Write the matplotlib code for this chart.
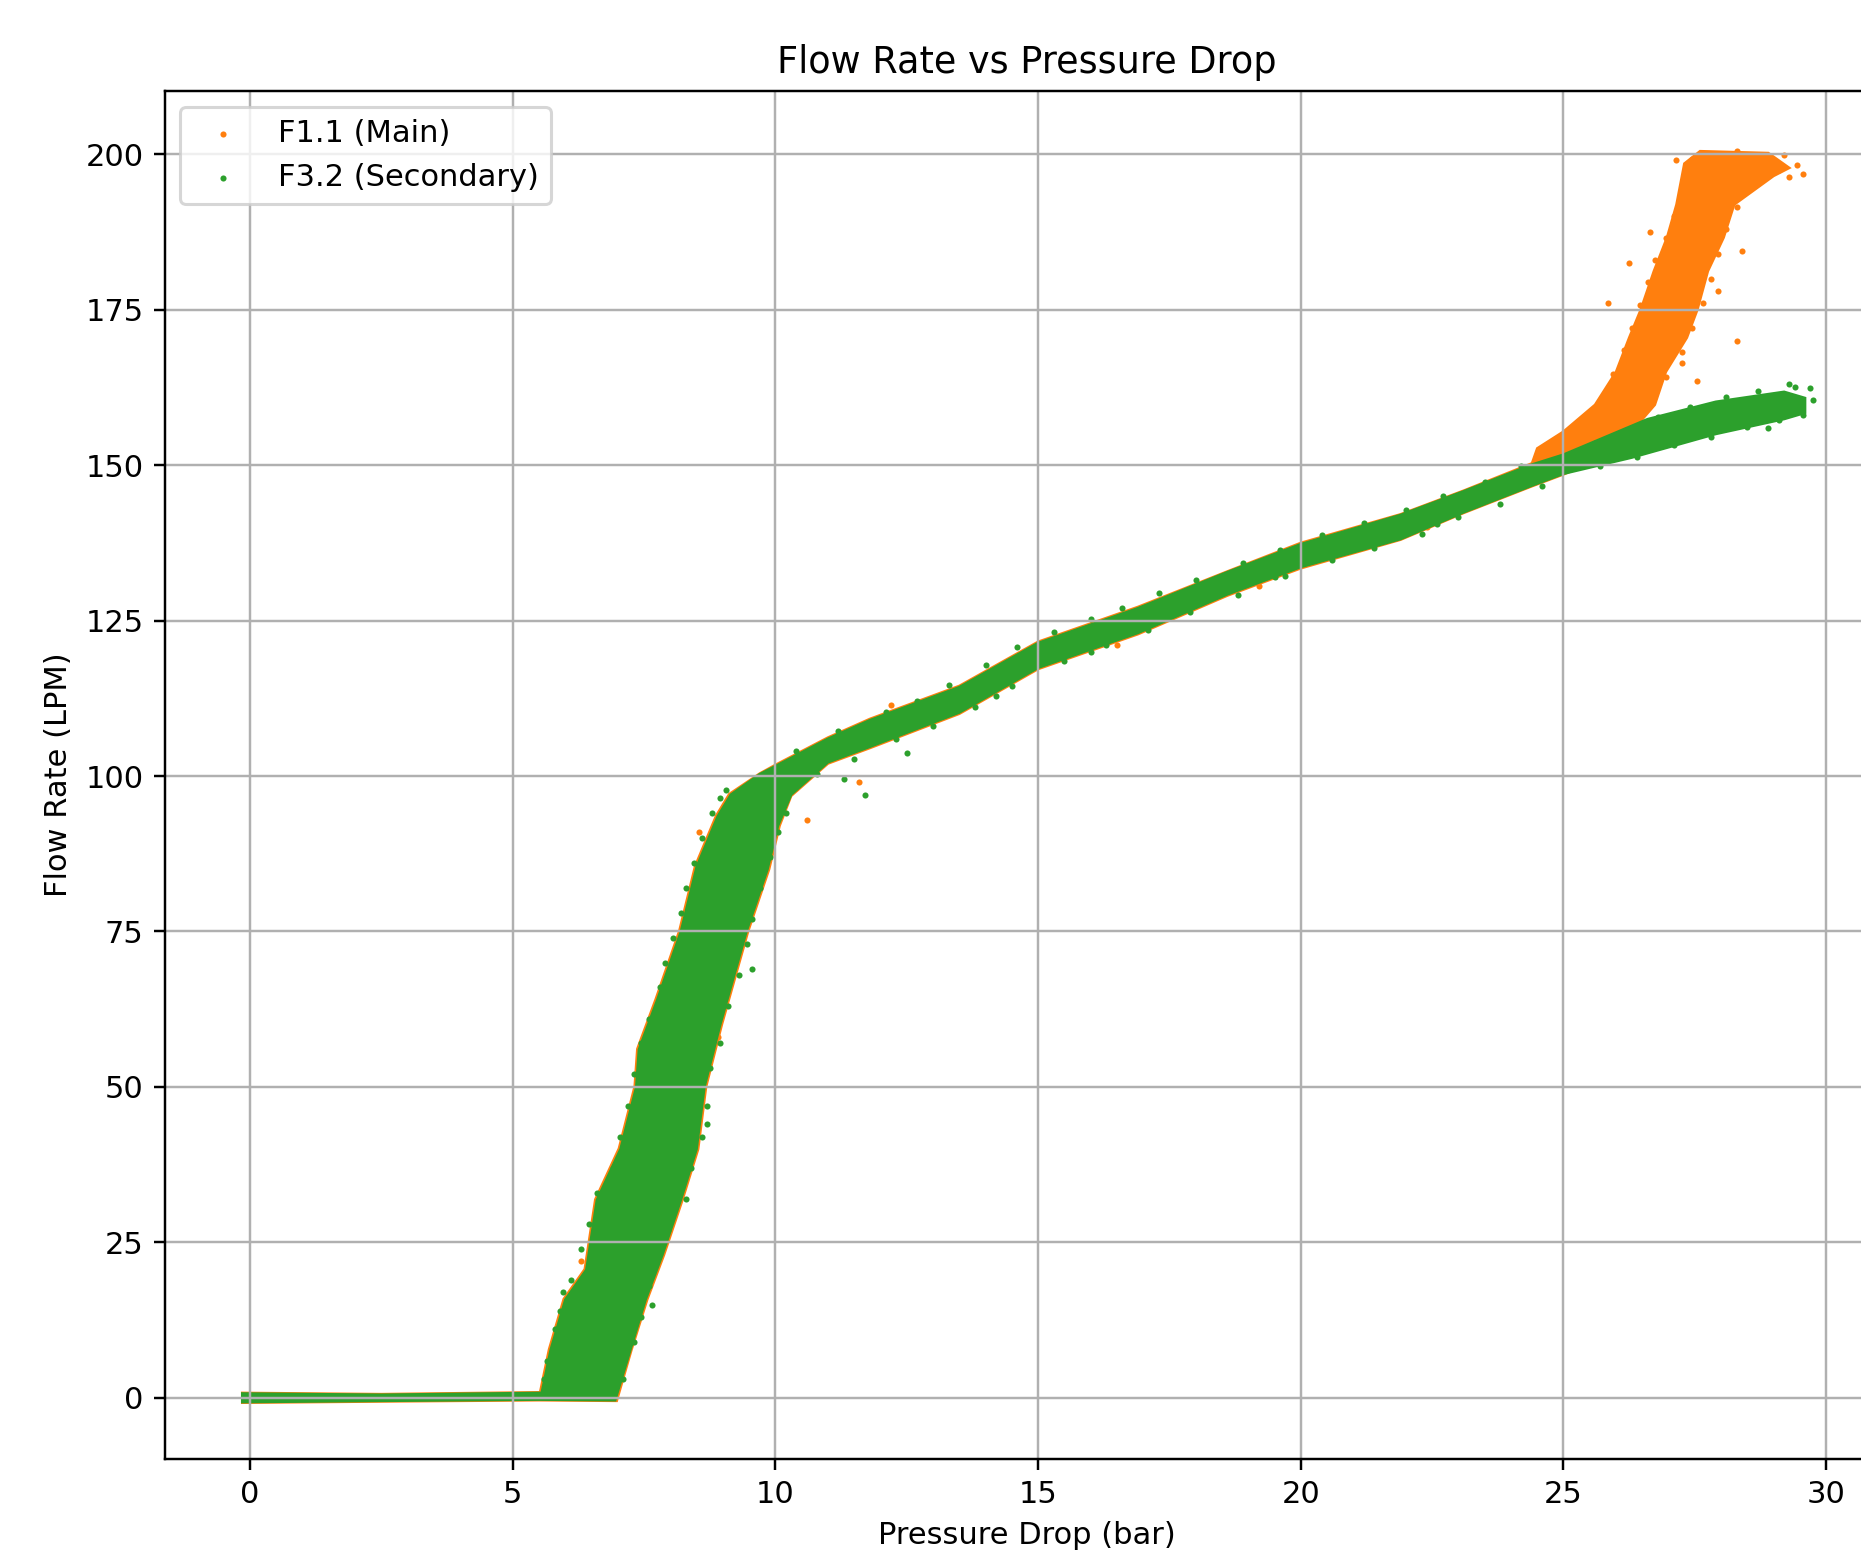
import matplotlib
matplotlib.use("Agg")
import matplotlib.pyplot as plt

# band outlines (x = bar, y = LPM), walked round the dense core
main_band_x = [-0.15, 2.5, 5.5, 6.98, 7.26, 7.56, 7.88, 8.23, 8.53, 8.68, 8.98, 9.18, 9.48,
               9.88, 10.08, 10.3, 11.0, 11.8, 13.5, 15.0, 16.9, 18.6, 20.0, 21.9, 23.1,
               24.4, 25.0, 26.2, 26.3, 26.74, 26.95, 27.35, 27.55, 27.75, 28.05, 28.25,
               29.0, 29.3, 28.9, 27.6, 27.3, 27.15, 26.97, 26.72, 26.47, 26.25, 26.0, 25.6,
               25.0, 24.5, 24.4, 23.1, 21.9, 20.0, 18.6, 16.9, 15.0, 13.5, 11.8, 11.0,
               10.0, 9.7, 9.12, 8.87, 8.47, 8.17, 7.72, 7.37, 7.32, 7.02, 6.57, 6.37, 5.97,
               5.69, 5.52, 2.5, -0.15]
main_band_y = [-0.8, -0.6, -0.4, -0.5, 7.7, 15.8, 23.0, 31.8, 40.0, 50.0, 60.0, 66.0, 75.0,
               85.0, 92.0, 96.8, 102.0, 104.5, 110.0, 117.2, 122.8, 129.0, 133.4, 138.0,
               142.3, 146.6, 148.5, 152.7, 155.4, 159.7, 165.0, 170.5, 175.0, 181.2, 186.6,
               191.9, 196.5, 197.8, 200.2, 200.5, 198.5, 191.9, 186.6, 181.2, 175.0, 170.5,
               165.0, 159.7, 155.4, 152.7, 150.3, 145.9, 142.1, 137.5, 132.9, 127.2, 121.6,
               114.5, 109.2, 106.2, 101.8, 100.4, 97.1, 93.6, 85.5, 75.1, 64.1, 56.1, 50.1,
               40.1, 31.9, 20.7, 15.9, 7.8, 0.9, 0.6, 0.8]

sec_band_x = [-0.15, 2.5, 5.5, 6.95, 7.24, 7.53, 7.85, 8.2, 8.5, 8.65, 8.95, 9.15, 9.45,
              9.85, 10.05, 10.3, 11.0, 11.8, 13.5, 15.0, 16.9, 18.6, 20.0, 21.9, 23.1,
              24.4, 25.0, 26.3, 27.9, 29.2, 29.6,
              29.6, 29.2, 27.9, 26.6, 25.0, 24.4, 23.1, 21.9, 20.0, 18.6, 16.9, 15.0,
              13.5, 11.8, 11.0, 10.0, 9.7, 9.15, 8.9, 8.5, 8.2, 7.75, 7.4, 7.35, 7.05,
              6.6, 6.4, 6.0, 5.72, 5.55, 2.5, -0.15]
sec_band_y = [-0.7, -0.5, -0.3, -0.4, 7.7, 15.8, 23.0, 31.8, 40.0, 50.0, 60.0, 66.0, 75.0,
              85.0, 92.0, 97.0, 102.2, 104.7, 110.2, 117.4, 123.0, 129.2, 133.6, 138.1,
              142.4, 146.7, 148.6, 151.2, 155.0, 157.4, 158.4,
              160.8, 161.8, 160.2, 157.4, 151.7, 150.1, 145.8, 142.0, 137.3, 132.8, 127.0,
              121.4, 114.3, 109.0, 106.0, 101.6, 100.3, 97.0, 93.5, 85.4, 75.0, 64.0,
              56.0, 50.0, 40.0, 31.8, 20.6, 15.8, 7.7, 0.8, 0.5, 0.7]

# loose readings on the fuzzy rims and outside the dense core
main_pts_x = [25.3, 25.6, 25.85, 25.95, 26.15, 26.3, 26.45, 26.6, 26.75, 26.95, 27.1, 27.25,
              27.35, 27.45, 26.4, 26.7, 26.95, 27.25, 27.45, 27.65, 27.8, 27.95, 28.1, 28.3,
              28.7, 29.1, 29.45, 29.2, 28.3, 25.85, 26.25, 26.65, 27.55, 28.3, 29.3, 28.4,
              27.25, 27.95, 24.8, 25.1, 6.3, 8.0, 8.9, 9.6, 10.4, 7.6, 6.05, 9.4, 10.6, 8.3,
              11.6, 16.5, 13.8, 12.2, 19.2, 22.4, 8.55, 9.9, 7.0, 27.15, 29.55]
main_pts_y = [155.5, 158.3, 161.5, 164.6, 168.5, 172.0, 175.8, 179.5, 183.0, 186.5, 190.0,
              193.2, 196.5, 199.3, 157.8, 160.8, 164.2, 168.2, 172.0, 176.0, 180.0, 184.0,
              188.0, 191.5, 195.3, 197.4, 198.2, 199.8, 200.6, 176.0, 182.5, 187.5, 163.5,
              170.0, 196.3, 184.5, 166.5, 178.0, 151.8, 154.3, 22.0, 33.0, 58.0, 84.0,
              98.0, 45.0, 9.0, 96.5, 93.0, 73.0, 99.0, 121.0, 112.0, 111.5, 130.5, 140.0,
              91.0, 88.0, 30.0, 199.0, 196.8]

sec_pts_x = [5.6, 5.65, 5.8, 5.9, 6.1, 6.3, 6.45, 6.6, 6.9, 7.05, 7.2, 7.3, 7.45, 7.6, 7.8,
             7.9, 8.05, 8.2, 8.3, 8.45, 8.6, 8.8, 8.95,
             7.1, 7.3, 7.45, 7.6, 7.7, 7.95, 8.3, 8.4, 8.6, 8.7, 8.75, 8.95, 9.1, 9.3,
             9.45, 9.55, 9.7, 9.9, 10.05, 10.2,
             10.4, 11.2, 12.1, 12.7, 13.3, 14.0, 14.6, 15.3, 16.0, 16.6, 17.3, 18.0, 18.9,
             19.6, 20.4, 21.2, 22.0, 22.7, 23.5, 24.2,
             10.8, 11.5, 12.3, 13.0, 13.8, 14.5, 15.5, 16.3, 17.1, 17.9, 18.8, 19.7, 20.6,
             21.4, 22.3, 23.0, 23.8, 24.6,
             25.6, 26.2, 26.8, 27.4, 28.1, 28.7, 29.4, 25.7, 26.4, 27.1, 27.8, 28.5, 29.1,
             29.55, 29.7, 29.75, 29.3, 28.9,
             5.95, 7.65, 8.7, 9.55, 11.3, 11.7, 9.05, 12.5, 14.2, 16.0, 19.5, 22.6]
sec_pts_y = [3.0, 6.0, 11.0, 14.0, 19.0, 24.0, 28.0, 33.0, 37.0, 42.0, 47.0, 52.0, 57.0,
             61.0, 66.0, 70.0, 74.0, 78.0, 82.0, 86.0, 90.0, 94.0, 96.5,
             3.0, 9.0, 13.0, 18.0, 22.0, 27.0, 32.0, 37.0, 42.0, 47.0, 53.0, 57.0, 63.0,
             68.0, 73.0, 77.0, 82.0, 87.0, 91.0, 94.0,
             104.0, 107.3, 110.3, 112.0, 114.7, 117.8, 120.7, 123.1, 125.3, 127.1, 129.4,
             131.5, 134.3, 136.4, 138.7, 140.7, 142.8, 145.0, 147.3, 149.8,
             100.3, 102.7, 105.9, 108.1, 111.1, 114.5, 118.5, 121.0, 123.5, 126.3, 129.1,
             132.1, 134.7, 136.7, 139.0, 141.6, 143.8, 146.7,
             153.6, 155.6, 157.8, 159.4, 161.0, 162.0, 162.6, 149.8, 151.3, 153.2, 154.6,
             156.2, 157.2, 158.1, 162.4, 160.5, 163.1, 156.0,
             17.0, 15.0, 44.0, 69.0, 99.5, 97.0, 97.8, 103.7, 112.8, 120.0, 132.0, 140.5]

main_label = "F1.1 (Main)"
sec_label = "F3.2 (Secondary)"
c_main = "#ff7f0e"
c_sec = "#2ca02c"

fig = plt.figure(figsize=(1862 / 220, 1555 / 220), dpi=220)
ax = fig.add_axes([0.0886, 0.0619, 0.926, 0.8793])

ax.fill(main_band_x, main_band_y, color=c_main, lw=0.8)
ax.scatter(main_pts_x, main_pts_y, s=4, color=c_main, linewidths=0, label=main_label)
ax.fill(sec_band_x, sec_band_y, color=c_sec, lw=0.8)
ax.scatter(sec_pts_x, sec_pts_y, s=4, color=c_sec, linewidths=0, label=sec_label)

ax.set_xlim(-1.62, 31.2)
ax.set_ylim(-9.8, 210.1)
ax.set_title("Flow Rate vs Pressure Drop")
ax.set_xlabel("Pressure Drop (bar)")
ax.set_ylabel("Flow Rate (LPM)")
ax.grid(True)
ax.legend(loc="upper left")

fig.savefig("out.png", dpi=220)
